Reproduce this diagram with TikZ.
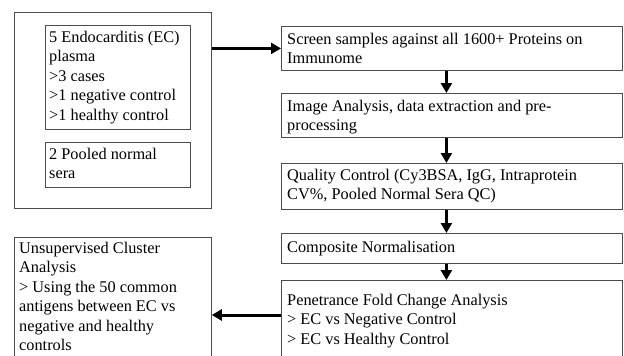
\documentclass[tikz,border=0pt]{standalone}
\usepackage{fontspec}
\setmainfont{Liberation Serif}
\usetikzlibrary{arrows.meta}
\begin{document}
\begin{tikzpicture}[x=1pt,y=-1pt,
  frame/.style={draw=black!70, line width=0.8pt, inner sep=0pt, anchor=north west},
  txt/.style={anchor=north west, inner sep=0pt, align=left, font=\fontsize{16.3}{19.5}\selectfont},
  flow/.style={line width=3pt, -{Triangle[width=11pt,length=10pt]}}
]
\useasboundingbox (0,0) rectangle (624,356);
\fill[white] (0,0) rectangle (624,356);

% sample group (left column)
\node[frame, minimum width=197pt, minimum height=196pt] (samples) at (14,12) {};
\node[frame, minimum width=145pt, minimum height=104pt] (ecbox) at (45,25) {};
\node[frame, minimum width=145pt, minimum height=45pt] (sera) at (45,142) {};
\node[txt] (ectext) at (49,28.5) {\strut 5 Endocarditis (EC)\\plasma\\>3 cases\\>1 negative control\\>1 healthy control};
\node[txt] (seratext) at (49,145.5) {\strut 2 Pooled normal\\sera};

% processing pipeline (right column)
\node[frame, minimum width=341pt, minimum height=44pt] (screen) at (281,26) {};
\node[frame, minimum width=341pt, minimum height=44pt] (image) at (281,93) {};
\node[frame, minimum width=341pt, minimum height=46pt] (qc) at (281,163) {};
\node[frame, minimum width=341pt, minimum height=30pt] (norm) at (281,233) {};
\node[frame, minimum width=341pt, minimum height=90pt] (pfc) at (281,280) {};

\node[txt] (screentext) at (287,30.5) {\strut Screen samples against all 1600+ Proteins on\\Immunome};
\node[txt] (imagetext) at (287,97.5) {\strut Image Analysis, data extraction and pre-\\processing};
\node[txt] (qctext) at (287,166.5) {\strut Quality Control (Cy3BSA, IgG, Intraprotein\\CV\%, Pooled Normal Sera QC)};
\node[txt] (normtext) at (287,238.5) {\strut Composite Normalisation};
\node[txt] (pfctext) at (287,291.5) {\strut Penetrance Fold Change Analysis\\> EC vs Negative Control\\> EC vs Healthy Control};

% cluster analysis (bottom left)
\node[frame, minimum width=197pt, minimum height=140pt] (cluster) at (14,237) {};
\node[txt] (clustertext) at (19,239.5) {\strut Unsupervised Cluster\\Analysis\\> Using the 50 common\\antigens between EC vs\\negative and healthy\\controls};

% connectors
\draw[flow] (samples.east |- screen.west) -- (screen.west);
\draw[flow] ([xshift=-5.5pt]screen.south) -- ([xshift=-5.5pt]image.north);
\draw[flow] ([xshift=-5.5pt]image.south) -- ([xshift=-5.5pt]qc.north);
\draw[flow] ([xshift=-5.5pt]qc.south) -- ([xshift=-5.5pt]norm.north);
\draw[flow] ([xshift=-5.5pt]norm.south) -- ([xshift=-5.5pt]pfc.north);
\coordinate (pfcside) at (281,315);
\draw[flow] (pfcside) -- (cluster.east |- pfcside);
\end{tikzpicture}
\end{document}
